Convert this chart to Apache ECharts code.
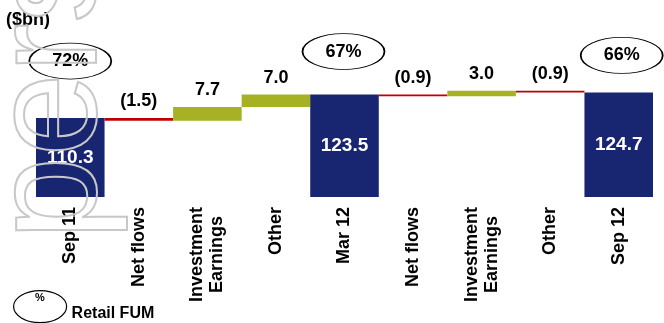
<!DOCTYPE html>
<html>
<head>
<meta charset="utf-8">
<script src="https://cdn.jsdelivr.net/npm/echarts@6/dist/echarts.min.js"></script>
<style>
  html, body { margin: 0; padding: 0; background: #fff; }
  #chart { width: 664px; height: 323px; }
</style>
</head>
<body>
<div id="chart"></div>
<script>
// waterfall data ($bn)
var categories = ["Sep 11", "Net flows", "Investment\nEarnings", "Other", "Mar 12",
                  "Net flows", "Investment\nEarnings", "Other", "Sep 12"];
var values = [110.3, -1.5, 7.7, 7.0, 123.5, -0.9, 3.0, -0.9, 124.7];
var isTotal = [true, false, false, false, true, false, false, false, true];
var retailFum = [72, null, null, null, 67, null, null, null, 66];

var NAVY = "#182671";
var RED = "#c00000";
var GREEN = "#a6b223";
var FONT = "Liberation Sans";

var yMin = 66;
var yMax = 165.4;

// ellipse lift above the total bar (px) and small x nudge
var pctLift = { 0: [0, -57], 4: [-1, -43], 8: [3, -37] };

var base = [];
var visible = [];
var level = 0;
values.forEach(function (v, i) {
  if (isTotal[i]) {
    base.push(yMin);
    visible.push({
      value: v - yMin,
      itemStyle: { color: NAVY },
      label: { position: "inside", color: "#fff", fontSize: 19 }
    });
    level = v;
  } else {
    var end = level + v;
    base.push(Math.min(level, end));
    visible.push({
      value: Math.abs(v),
      itemStyle: { color: v < 0 ? RED : GREEN },
      label: { position: "top", distance: 8, color: "#000", fontSize: 18 }
    });
    level = end;
  }
});

var pctData = values.map(function (v, i) {
  if (retailFum[i] == null) return "-";
  return { value: v, symbolOffset: pctLift[i] };
});

var chart = echarts.init(document.getElementById("chart"), null, { renderer: "canvas" });

var option = {
  animation: false,
  backgroundColor: "#ffffff",
  textStyle: { fontFamily: FONT },
  title: {
    text: "($bn)",
    left: 6,
    top: 11,
    padding: 0,
    textStyle: { fontFamily: FONT, fontSize: 18, fontWeight: "bold", color: "#000" }
  },
  legend: {
    data: ["Retail FUM"],
    left: 13,
    top: 290,
    padding: 0,
    itemWidth: 53,
    itemHeight: 32,
    itemGap: 5,
    icon: "path://M0,16A26.5,16,0,1,1,53,16A26.5,16,0,1,1,0,16Z",
    itemStyle: { color: "rgba(0,0,0,0)", borderColor: "#000", borderWidth: 1.2, opacity: 1 },
    formatter: "{t|{name}}",
    textStyle: {
      rich: {
        t: { fontFamily: FONT, fontSize: 16, fontWeight: "bold", color: "#000", padding: [14, 0, 0, 0] }
      }
    }
  },
  grid: { left: 36, right: 11, top: 20, bottom: 126 },
  xAxis: {
    type: "category",
    data: categories,
    axisLine: { show: false },
    axisTick: { show: false },
    axisLabel: {
      interval: 0,
      rotate: 90,
      margin: 10,
      formatter: function (s) {
        return s.split("\n").map(function (t) { return "{c|" + t + "}"; }).join("\n");
      },
      rich: {
        c: { align: "center", fontFamily: FONT, fontSize: 18, fontWeight: "bold", color: "#000", lineHeight: 20 }
      }
    }
  },
  yAxis: { type: "value", min: yMin, max: yMax, show: false },
  series: [
    {
      name: "base",
      type: "bar",
      stack: "wf",
      silent: true,
      barCategoryGap: "0%",
      itemStyle: { color: "rgba(0,0,0,0)" },
      data: base
    },
    {
      name: "FUM",
      type: "bar",
      stack: "wf",
      silent: true,
      barCategoryGap: "0%",
      label: {
        show: true,
        fontFamily: FONT,
        fontWeight: "bold",
        formatter: function (p) {
          var v = values[p.dataIndex];
          return v < 0 ? "(" + Math.abs(v).toFixed(1) + ")" : v.toFixed(1);
        }
      },
      data: visible
    },
    {
      name: "Retail FUM",
      type: "scatter",
      silent: true,
      z: 5,
      symbol: "circle",
      symbolSize: [82, 36],
      itemStyle: { color: "rgba(0,0,0,0)", borderColor: "#000", borderWidth: 1.2, opacity: 1 },
      label: {
        show: true,
        position: "inside",
        fontFamily: FONT,
        fontSize: 18,
        fontWeight: "bold",
        color: "#000",
        formatter: function (p) { return retailFum[p.dataIndex] + "%"; }
      },
      data: pctData
    }
  ],
  graphic: [
    {
      type: "text",
      x: 40,
      y: 298,
      z: 10,
      silent: true,
      style: { text: "%", font: "bold 11px 'Liberation Sans'", fill: "#000", align: "center", verticalAlign: "middle", textAlign: "center", textVerticalAlign: "middle" }
    },
    {
      // faint outlined watermark running up the left edge
      type: "text",
      x: 55,
      y: 240,
      rotation: Math.PI / 2,
      z: 100,
      silent: true,
      style: {
        text: "personal",
        font: "150px 'Liberation Sans'",
        fill: "none",
        stroke: "#c8c8c8",
        lineWidth: 2,
        align: "left",
        verticalAlign: "middle",
        textAlign: "left",
        textVerticalAlign: "middle"
      }
    }
  ]
};

chart.setOption(option);
</script>
</body>
</html>
